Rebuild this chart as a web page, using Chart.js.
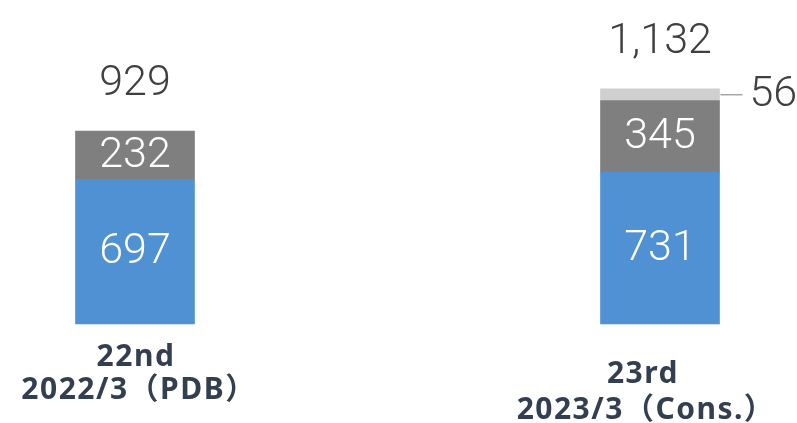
<!DOCTYPE html>
<html>
<head>
<meta charset="utf-8">
<script src="https://cdn.jsdelivr.net/npm/chart.js@4.4.0/dist/chart.umd.min.js"></script>
<style>
  html, body { margin: 0; padding: 0; background: #fff; }
  #wrap { width: 797px; height: 423px; }
</style>
</head>
<body>
<div id="wrap"><canvas id="grafica"></canvas></div>
<script>
var periodos = ['22nd', '23rd'];
var periodosFecha = ['2022/3（PDB）', '2023/3（Cons.）'];
var valoresAzul = [697, 731];
var valoresGris = [232, 345];
var valoresClaro = [null, 56];

var numFont = '300 43px Roboto, "Noto Sans", sans-serif';
var catFont = 'bold 30px "Noto Sans", "Noto Sans CJK JP", sans-serif';

var etiquetas = {
    id: 'etiquetas',
    afterDatasetsDraw: function (chart) {
        var ctx = chart.ctx;
        ctx.save();
        ctx.textAlign = 'center';
        ctx.textBaseline = 'middle';
        ctx.font = numFont;

        // valores dentro de las barras
        [0, 1].forEach(function (d) {
            var meta = chart.getDatasetMeta(d);
            meta.data.forEach(function (bar, i) {
                var v = chart.data.datasets[d].data[i];
                if (v == null) return;
                ctx.fillStyle = '#ffffff';
                ctx.fillText(v, bar.x, (bar.y + bar.base) / 2 + 1);
            });
        });

        // segmento pequeño: etiqueta fuera con linea guia
        var meta3 = chart.getDatasetMeta(2);
        meta3.data.forEach(function (bar, i) {
            var v = chart.data.datasets[2].data[i];
            if (v == null) return;
            var yc = (bar.y + bar.base) / 2;
            var xr = bar.x + bar.width / 2;
            ctx.strokeStyle = '#a6a6a6';
            ctx.lineWidth = 1.5;
            ctx.beginPath();
            ctx.moveTo(xr + 1, yc);
            ctx.lineTo(xr + 23, yc);
            ctx.stroke();
            ctx.fillStyle = '#404040';
            ctx.textAlign = 'left';
            ctx.fillText(v, xr + 30, yc + 1);
            ctx.textAlign = 'center';
        });

        // totales
        var yScale = chart.scales.y;
        var xScale = chart.scales.x;
        periodos.forEach(function (p, i) {
            var total = (valoresAzul[i] || 0) + (valoresGris[i] || 0) + (valoresClaro[i] || 0);
            ctx.fillStyle = '#404040';
            ctx.textBaseline = 'alphabetic';
            ctx.fillText(total.toLocaleString('en-US'), xScale.getPixelForValue(i), yScale.getPixelForValue(total) - 36);
        });

        // etiquetas de categoria
        ctx.font = catFont;
        ctx.fillStyle = '#333f50';
        ctx.letterSpacing = '1.5px';
        var desplX = [0, -18];
        var linea1 = [366, 383];
        var linea2 = [399, 419];
        periodos.forEach(function (p, i) {
            var x = xScale.getPixelForValue(i) + desplX[i];
            ctx.fillText(p, x + 1, linea1[i]);
            ctx.fillText(periodosFecha[i], x + 4, linea2[i]);
        });
        ctx.restore();
    }
};

var ctx = document.getElementById('grafica').getContext('2d');
var myChart = new Chart(ctx, {
    type: 'bar',
    data: {
        labels: periodos,
        datasets: [{
            data: valoresAzul,
            backgroundColor: '#5091d3',
            barThickness: 119,
            clip: false
        }, {
            data: valoresGris,
            backgroundColor: '#7f7f7f',
            barThickness: 119,
            clip: false
        }, {
            data: valoresClaro,
            backgroundColor: '#d0cece',
            barThickness: 119,
            clip: false
        }]
    },
    options: {
        responsive: true,
        maintainAspectRatio: false,
        animation: false,
        layout: {
            padding: { left: 135, right: 137, top: 0, bottom: 99 }
        },
        plugins: {
            legend: { display: false },
            tooltip: { enabled: false }
        },
        scales: {
            x: {
                stacked: true,
                offset: false,
                display: false
            },
            y: {
                stacked: true,
                display: false,
                min: 0,
                max: 1560
            }
        }
    },
    plugins: [etiquetas]
});
</script>
</body>
</html>
